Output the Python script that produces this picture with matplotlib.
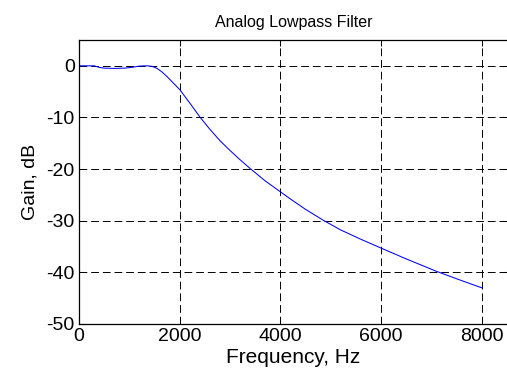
import matplotlib
matplotlib.use('Agg')
import matplotlib.pyplot as plt

# values
freq = [0, 300, 400, 500, 700, 900, 1050, 1200, 1350, 1450, 1550, 1650, 1750,
        1850, 2000, 2200, 2400, 2600, 2800, 3000, 3200, 3400, 3700, 4000, 4200,
        4500, 4850, 5200, 5600, 6000, 6500, 7100, 7600, 8000]
gain = [0, 0, -0.3, -0.45, -0.5, -0.45, -0.3, -0.05, 0, -0.1, -0.5, -1.2, -2.1,
        -3.1, -4.6, -7.2, -9.9, -12.3, -14.5, -16.4, -18.2, -19.9, -22.3, -24.4, -25.8,
        -27.8, -29.9, -31.8, -33.6, -35.3, -37.4, -39.8, -41.6, -43.0]
xticks = [0, 2000, 4000, 6000, 8000]
yticks = [0, -10, -20, -30, -40, -50]

plt.rcParams['font.family'] = 'Liberation Sans'
plt.rcParams['font.size'] = 14
plt.rcParams['axes.unicode_minus'] = False

W, H = 507, 383
fig = plt.figure(figsize=(W / 100, H / 100), dpi=100)
# right edge runs just past the image, as in the cropped original
ax = fig.add_axes([79 / W, 59 / H, 429 / W, 284 / H])

ax.plot(freq, gain, color='#0000ff', linewidth=0.75)

ax.set_xlim(0, 8520)
ax.set_ylim(-50, 5)
ax.set_xticks(xticks)
ax.set_yticks(yticks)
ax.tick_params(direction='in', length=4, width=0.75, top=True, right=True, pad=3)
ax.grid(True, color='black', linestyle=(0, (8, 4)), linewidth=0.7)
for s in ax.spines.values():
    s.set_linewidth(0.9)

ax.set_title('Analog Lowpass Filter', fontsize=11.5, pad=9)
ax.set_xlabel('Frequency, Hz', fontsize=15, labelpad=2)
ax.set_ylabel('Gain, dB', fontsize=14, labelpad=6)

fig.savefig('out.png', dpi=100)
